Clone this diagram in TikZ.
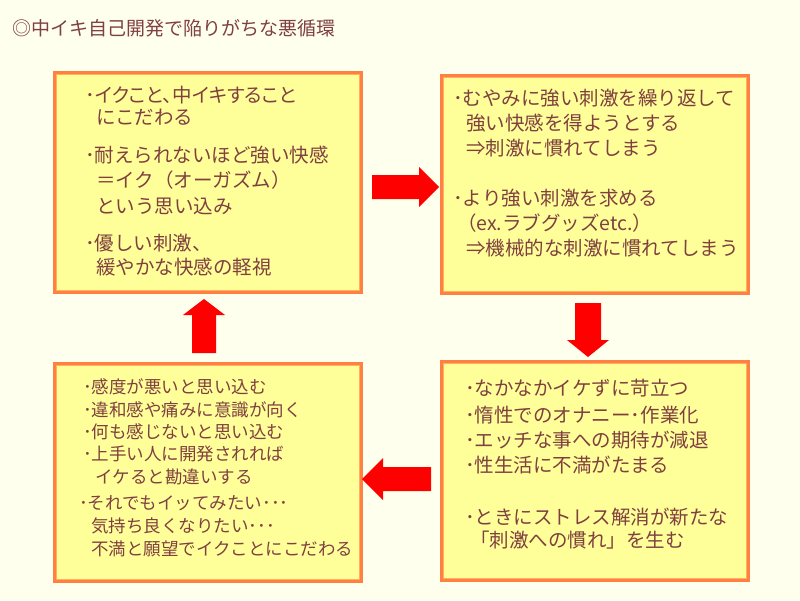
\documentclass[tikz,border=0pt]{standalone}
\usepackage{fontspec}
\newfontfamily\jp{Noto Sans CJK JP}
\newfontfamily\jpp[RawFeature=+palt]{Noto Sans CJK JP}
\definecolor{bg}{HTML}{FFFFEE}
\definecolor{boxfill}{HTML}{FFFF99}
\definecolor{boxline}{HTML}{FF8040}
\definecolor{boxinner}{HTML}{FFB060}
\definecolor{txtc}{HTML}{804040}
\definecolor{arrowred}{HTML}{FF0000}
\begin{document}
\begin{tikzpicture}[x=1pt,y=-1pt,
  box/.style={draw=boxline, fill=boxfill, line width=3pt, inner sep=0pt, outer sep=0pt, minimum width=307pt, minimum height=#1},
  innerline/.style={draw=boxinner, line width=1pt},
  txt/.style={anchor=base west, inner sep=0pt, text=txtc},
  big/.style={txt, font=\jp\fontsize{19.5}{24}\selectfont},
  bigp/.style={txt, font=\jpp\fontsize{19.5}{24}\selectfont},
  small/.style={txt, font=\jp\fontsize{17.5}{22}\selectfont},
  ttl/.style={txt, font=\jp\fontsize{19}{22}\selectfont},
  blockarrow/.style={fill=arrowred}]
\fill[bg] (0,0) rectangle (800,600);
\useasboundingbox (0,0) rectangle (800,600);

% title
\node[ttl] (title) at (12,35.2) {◎中イキ自己開発で陥りがちな悪循環};

% boxes
\node[box=220pt] (b1) at (208,182.5) {};
\node[box=218pt] (b2) at (595,184.5) {};
\node[box=218pt] (b3) at (208,472.5) {};
\node[box=219pt] (b4) at (595,471) {};
\foreach \b in {b1,b2,b3,b4}{
  \draw[innerline] ([xshift=2pt,yshift=-2pt]\b.north west) rectangle ([xshift=-2pt,yshift=2pt]\b.south east);
}

% arrows
% b1 -> b2
\fill[blockarrow] (372,175) -- (419,175) -- (419,167) -- (439,187) -- (419,207) -- (419,199) -- (372,199) -- cycle;
% b2 -> b4
\fill[blockarrow] (575,303) -- (601,303) -- (601,340) -- (609,340) -- (588,357) -- (567,340) -- (575,340) -- cycle;
% b4 -> b3
\fill[blockarrow] (431,467) -- (383,467) -- (383,458) -- (362,479) -- (383,500) -- (383,491) -- (431,491) -- cycle;
% b3 -> b1
\fill[blockarrow] (192,353) -- (192,315) -- (183,315) -- (204,299) -- (225,315) -- (216,315) -- (216,353) -- cycle;

% box 1 text
\node[bigp] (t1a) at (85,102.4) {･イクこと、中イキすること};
\node[big] (t1b) at (96,124.4) {にこだわる};
\node[big] (t1c) at (85,162.4) {･耐えられないほど強い快感};
\node[big] (t1d) at (96,187.4) {＝イク（オーガズム）};
\node[big] (t1e) at (96,213.4) {という思い込み};
\node[big] (t1f) at (85,250.4) {･優しい刺激、};
\node[big] (t1g) at (96,274.4) {緩やかな快感の軽視};

% box 2 text
\node[big] (t2a) at (453,105.4) {･むやみに強い刺激を繰り返して};
\node[big] (t2b) at (466,130.4) {強い快感を得ようとする};
\node[big] (t2c) at (466,155.4) {⇒刺激に慣れてしまう};
\node[big] (t2d) at (453,205.4) {･より強い刺激を求める};
\node[big] (t2e) at (457,230.4) {（ex.ラブグッズetc.）};
\node[big] (t2f) at (466,255.4) {⇒機械的な刺激に慣れてしまう};

% box 3 text
\node[small] (t3a) at (83,393.6) {･感度が悪いと思い込む};
\node[small] (t3b) at (83,416.6) {･違和感や痛みに意識が向く};
\node[small] (t3c) at (83,438.6) {･何も感じないと思い込む};
\node[small] (t3d) at (83,460.6) {･上手い人に開発されれば};
\node[small] (t3e) at (95,483.6) {イケると勘違いする};
\node[small] (t3f) at (79,509.6) {･それでもイッてみたい･･･};
\node[small] (t3g) at (91,532.6) {気持ち良くなりたい･･･};
\node[small] (t3h) at (91,555.6) {不満と願望でイクことにこだわる};

% box 4 text
\node[big] (t4a) at (465,395.4) {･なかなかイケずに苛立つ};
\node[big] (t4b) at (465,422.4) {･惰性でのオナニー･作業化};
\node[big] (t4c) at (465,447.4) {･エッチな事への期待が減退};
\node[big] (t4d) at (465,472.4) {･性生活に不満がたまる};
\node[big] (t4e) at (465,524.4) {･ときにストレス解消が新たな};
\node[big] (t4f) at (470,547.4) {「刺激への慣れ」を生む};
\end{tikzpicture}
\end{document}
